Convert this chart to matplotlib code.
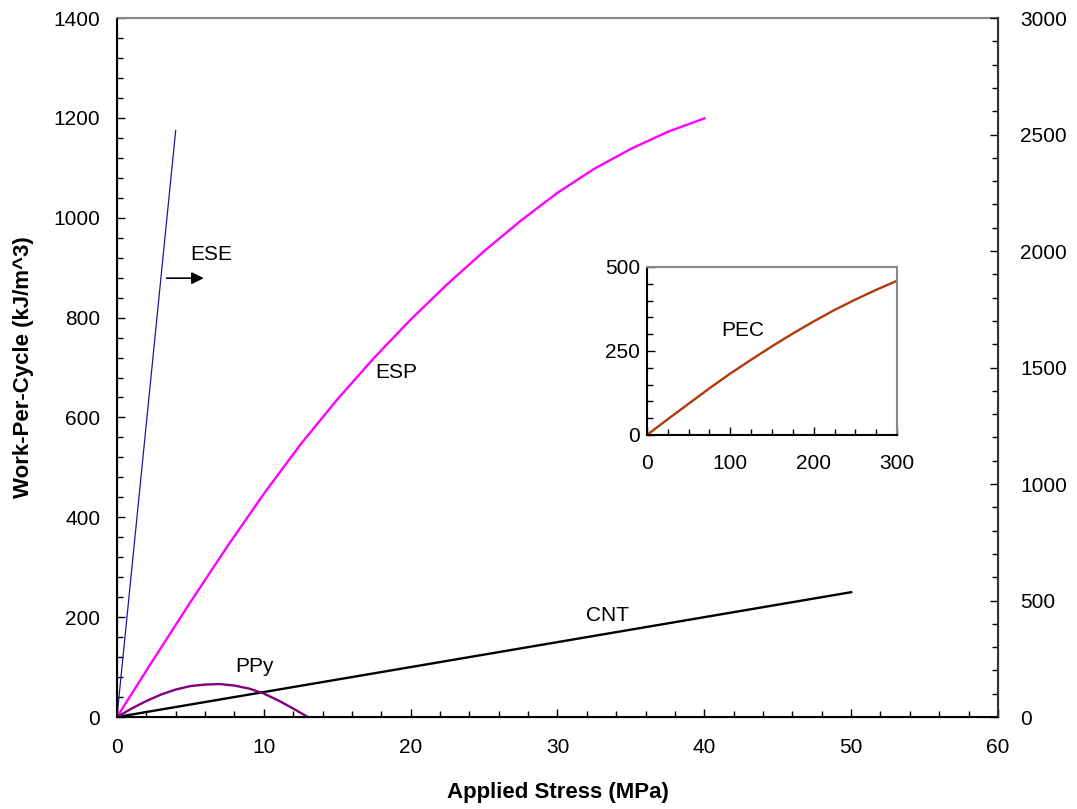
import matplotlib.pyplot as plt
from matplotlib.ticker import MultipleLocator

plt.rcParams['font.family'] = ['Liberation Sans', 'DejaVu Sans']

# ------------------------------
# data (stress in MPa, work in kJ/m^3)
# ------------------------------
ese_x = [0, 4]
ese_y = [0, 1175]

esp_x = [0, 2.5, 5, 7.5, 10, 12.5, 15, 17.5, 20, 22.5, 25, 27.5, 30, 32.5, 35, 37.5, 40]
esp_y = [0, 116, 230, 341, 447, 546, 636, 719, 796, 867, 933, 994, 1050, 1098, 1138, 1172, 1199]

cnt_x = [0, 50]
cnt_y = [0, 250]

ppy_x = [0, 1, 2, 3, 4, 5, 6, 7, 8, 9, 10, 11, 12, 13]
ppy_y = [0, 17, 32, 45, 55, 62, 65, 66, 63, 57, 47, 33, 17, 0]

# PEC goes in the inset (larger stress range)
pec_x = [0, 25, 50, 75, 100, 125, 150, 175, 200, 225, 250, 275, 300]
pec_y = [0, 47, 93, 139, 183, 224, 264, 302, 338, 372, 403, 432, 459]

TICK_FS = 15
LABEL_FS = 16

fig = plt.figure(figsize=(10.77, 8.09), dpi=100)
ax = fig.add_axes([0.1086, 0.1137, 0.818, 0.864])

ax.plot(ese_x, ese_y, color='#1a1a9a', lw=0.9)
ax.plot(esp_x, esp_y, color='#ff00ff', lw=1.7)
ax.plot(cnt_x, cnt_y, color='black', lw=1.7)
ax.plot(ppy_x, ppy_y, color='#800080', lw=1.7)

ax.set_xlim(0, 60)
ax.set_ylim(0, 1400)
ax.xaxis.set_major_locator(MultipleLocator(10))
ax.xaxis.set_minor_locator(MultipleLocator(2))
ax.yaxis.set_major_locator(MultipleLocator(200))
ax.yaxis.set_minor_locator(MultipleLocator(40))
ax.tick_params(which='both', direction='in', labelsize=TICK_FS)
ax.tick_params(which='major', length=6, width=1)
ax.tick_params(which='minor', length=4, width=1)
ax.tick_params(axis='x', pad=15)
ax.tick_params(axis='y', pad=12)
ax.set_xlabel('Applied Stress (MPa)', fontsize=LABEL_FS, fontweight='bold', labelpad=18)
ax.set_ylabel('Work-Per-Cycle (kJ/m^3)', fontsize=LABEL_FS, fontweight='bold', labelpad=14)
ax.spines['left'].set_linewidth(1.5)
ax.spines['bottom'].set_linewidth(1.5)
ax.spines['top'].set_color('#888888')
ax.spines['top'].set_linewidth(1.5)

# right-hand scale
ax2 = ax.twinx()
ax2.set_ylim(0, 3000)
ax2.yaxis.set_major_locator(MultipleLocator(500))
ax2.yaxis.set_minor_locator(MultipleLocator(100))
ax2.tick_params(which='both', direction='in', labelsize=TICK_FS, pad=16)
ax2.tick_params(which='major', length=6, width=1)
ax2.tick_params(which='minor', length=4, width=1)
ax2.spines['right'].set_color('#333333')
ax2.spines['right'].set_linewidth(1.5)
ax2.spines['top'].set_visible(False)

# curve labels
ax.text(6.4, 927, 'ESE', fontsize=TICK_FS, ha='center', va='center')
ax.annotate('', xy=(6.1, 879), xytext=(3.2, 879),
            arrowprops=dict(arrowstyle='-|>', color='black', lw=1.2, mutation_scale=18))
ax.text(19.0, 690, 'ESP', fontsize=TICK_FS, ha='center', va='center')
ax.text(33.4, 204, 'CNT', fontsize=TICK_FS, ha='center', va='center')
ax.text(9.4, 101, 'PPy', fontsize=TICK_FS, ha='center', va='center')

# inset for PEC
axi = fig.add_axes([0.6007, 0.4623, 0.2322, 0.2077])
axi.plot(pec_x, pec_y, color='#b03a0a', lw=1.7)
axi.set_xlim(0, 300)
axi.set_ylim(0, 500)
axi.xaxis.set_major_locator(MultipleLocator(100))
axi.xaxis.set_minor_locator(MultipleLocator(25))
axi.yaxis.set_major_locator(MultipleLocator(250))
axi.yaxis.set_minor_locator(MultipleLocator(50))
axi.tick_params(which='both', direction='in', labelsize=TICK_FS)
axi.tick_params(which='major', length=6, width=1)
axi.tick_params(which='minor', length=4, width=1)
axi.tick_params(axis='x', pad=14)
axi.tick_params(axis='y', pad=5)
axi.spines['left'].set_linewidth(1.5)
axi.spines['bottom'].set_linewidth(1.5)
for side in ('top', 'right'):
    axi.spines[side].set_color('#888888')
    axi.spines[side].set_linewidth(1.5)
axi.text(115, 310, 'PEC', fontsize=TICK_FS, ha='center', va='center')

fig.savefig('out.png', dpi=100)
